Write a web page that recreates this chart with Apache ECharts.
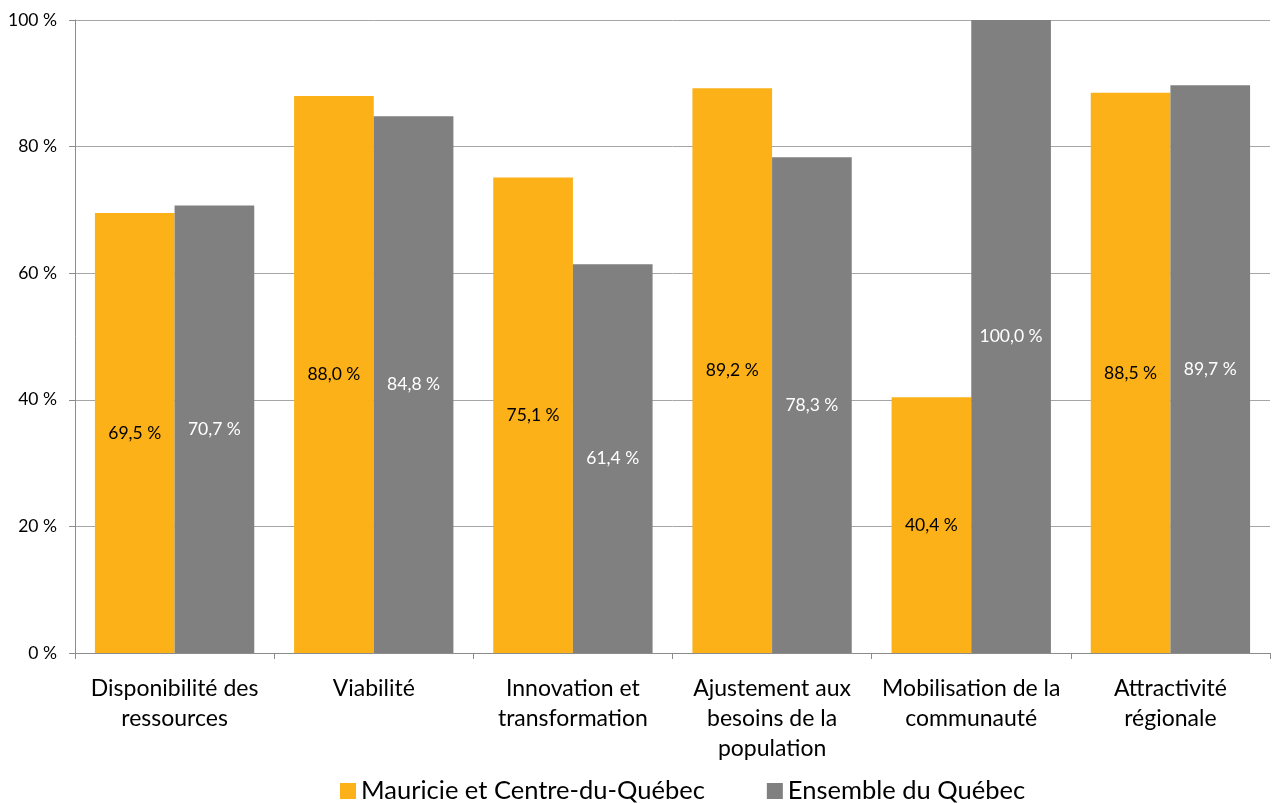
<!DOCTYPE html>
<html>
<head>
<meta charset="utf-8">
<script src="https://cdn.jsdelivr.net/npm/echarts@6/dist/echarts.min.js"></script>
<style>
html,body{margin:0;padding:0;background:#fff;}
#chart{width:1272px;height:803px;}
</style>
</head>
<body>
<div id="chart"></div>
<script>
const categories = [
  "Disponibilité des\nressources",
  "Viabilité",
  "Innovation et\ntransformation",
  "Ajustement aux\nbesoins de la\npopulation",
  "Mobilisation de la\ncommunauté",
  "Attractivité\nrégionale"
];
const seriesNames = ["Mauricie et Centre-du-Québec", "Ensemble du Québec"];
const mauricie = [69.5, 88.0, 75.1, 89.2, 40.4, 88.5];
const quebec = [70.7, 84.8, 61.4, 78.3, 100.0, 89.7];
const yTicks = [0, 20, 40, 60, 80, 100];

const FONT = 'Lato, "Open Sans", sans-serif';
const fmt = v => v.toFixed(1).replace('.', ',') + ' %';

const chart = echarts.init(document.getElementById('chart'));
chart.setOption({
  animation: false,
  textStyle: { fontFamily: FONT },
  grid: { left: 75, right: 2, top: 20, bottom: 150 },
  legend: {
    top: 773,
    left: 335,
    icon: 'rect',
    itemWidth: 16,
    itemHeight: 16,
    itemGap: 62,
    textStyle: { fontSize: 25.5, color: '#000', fontFamily: FONT },
    data: seriesNames
  },
  xAxis: {
    type: 'category',
    data: categories,
    axisLine: { lineStyle: { color: '#8c8c8c', width: 1 } },
    axisTick: { show: true, length: 6, lineStyle: { color: '#8c8c8c' } },
    axisLabel: { interval: 0, fontSize: 23, lineHeight: 30, color: '#000', margin: 21, fontFamily: FONT }
  },
  yAxis: {
    type: 'value',
    min: yTicks[0],
    max: yTicks[yTicks.length - 1],
    interval: 20,
    axisLine: { show: true, lineStyle: { color: '#8c8c8c', width: 1 } },
    axisTick: { show: true, length: 6, lineStyle: { color: '#8c8c8c' } },
    axisLabel: { fontSize: 17.5, color: '#000', margin: 18, formatter: v => v + ' %', fontFamily: FONT },
    splitLine: { show: true, lineStyle: { color: '#a6a6a6', width: 1 } }
  },
  series: [
    {
      name: seriesNames[0],
      type: 'bar',
      data: mauricie,
      barGap: '0%',
      barCategoryGap: '20%',
      itemStyle: { color: '#fbb117' },
      label: { show: true, position: 'inside', fontSize: 17.5, color: '#000', formatter: p => fmt(p.value), fontFamily: FONT }
    },
    {
      name: seriesNames[1],
      type: 'bar',
      data: quebec,
      barGap: '0%',
      barCategoryGap: '20%',
      itemStyle: { color: '#808080' },
      label: { show: true, position: 'inside', fontSize: 17.5, color: '#fff', formatter: p => fmt(p.value), fontFamily: FONT }
    }
  ]
});
</script>
</body>
</html>
